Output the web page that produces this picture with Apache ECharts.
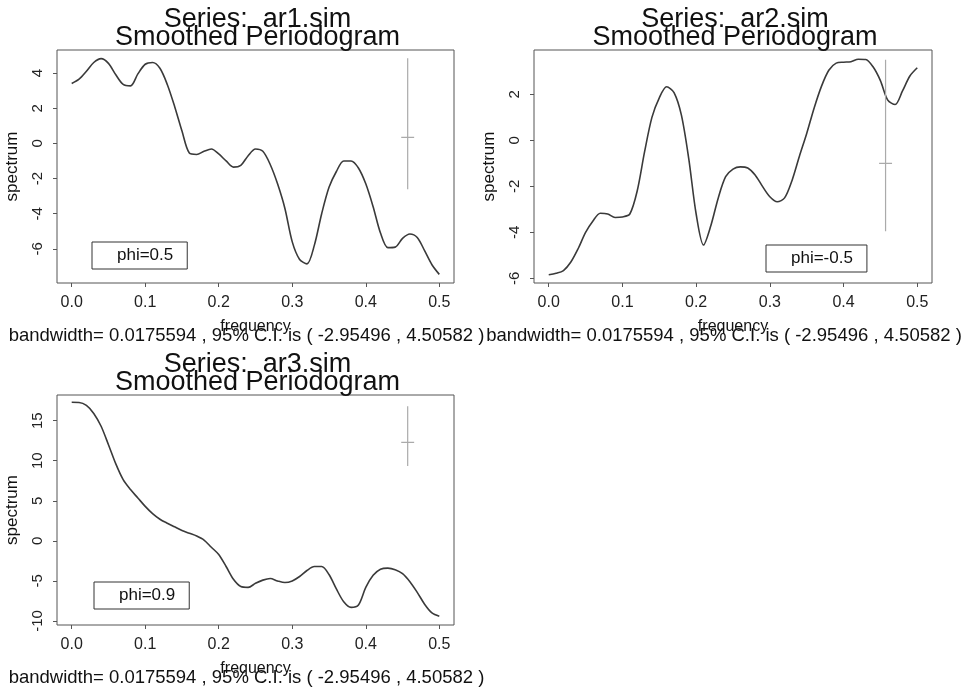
<!DOCTYPE html>
<html lang="en">
  <head>
    <meta charset="utf-8" />
    <title>Smoothed Periodogram</title>
    <script src="https://cdn.jsdelivr.net/npm/echarts@6/dist/echarts.min.js"></script>
    <style>
      html, body { margin: 0; padding: 0; background: #fff; }
      #chart { width: 971px; height: 692px; }
    </style>
  </head>
  <body>
    <div id="chart"></div>
    <script>
      // frequencies of the smoothed periodogram
      var freq = [0.00, 0.01, 0.02, 0.03, 0.04, 0.05, 0.06, 0.07, 0.08, 0.09,
        0.10, 0.11, 0.12, 0.13, 0.14, 0.15, 0.16, 0.17, 0.18, 0.19,
        0.20, 0.21, 0.22, 0.23, 0.24, 0.25, 0.26, 0.27, 0.28, 0.29,
        0.30, 0.31, 0.32, 0.33, 0.34, 0.35, 0.36, 0.37, 0.38, 0.39,
        0.40, 0.41, 0.42, 0.43, 0.44, 0.45, 0.46, 0.47, 0.48, 0.49, 0.50]

      // spectrum (dB) of each simulated series
      var ar1 = [3.41, 3.65, 4.1, 4.6, 4.82, 4.55, 3.9, 3.35, 3.27, 3.95,
        4.5, 4.6, 4.27, 3.35, 2.1, 0.7, -0.55, -0.63, -0.45, -0.32,
        -0.6, -1.0, -1.35, -1.25, -0.7, -0.32, -0.45, -1.2, -2.3, -3.7,
        -5.6, -6.6, -6.85, -5.8, -4.0, -2.5, -1.6, -1.0, -1.0, -1.4,
        -2.3, -3.6, -5.1, -5.93, -5.9, -5.4, -5.15, -5.35, -6.1, -6.9, -7.45]
      var ar2 = [-5.84, -5.78, -5.66, -5.29, -4.7, -4.0, -3.5, -3.17, -3.2, -3.35,
        -3.33, -3.2, -2.2, -0.5, 1.0, 1.85, 2.33, 2.08, 1.1, -0.8,
        -3.2, -4.55, -3.7, -2.5, -1.58, -1.25, -1.15, -1.2, -1.5, -2.0,
        -2.45, -2.67, -2.5, -1.75, -0.7, 0.3, 1.4, 2.35, 3.05, 3.36,
        3.4, 3.42, 3.53, 3.52, 3.2, 2.6, 1.75, 1.56, 2.15, 2.8, 3.16]
      var ar3 = [17.29, 17.27, 16.9, 15.9, 14.3, 12.0, 9.6, 7.64, 6.4, 5.35,
        4.3, 3.4, 2.7, 2.2, 1.75, 1.3, 0.95, 0.6, 0.1, -0.8,
        -1.7, -3.2, -4.8, -5.7, -5.8, -5.3, -4.9, -4.7, -5.0, -5.2,
        -5.0, -4.45, -3.7, -3.2, -3.2, -4.2, -6.0, -7.6, -8.3, -8.0,
        -5.8, -4.3, -3.54, -3.4, -3.6, -4.1, -5.1, -6.43, -7.9, -9.0, -9.42]

      var seriesNames = ['ar1.sim', 'ar2.sim', 'ar3.sim']
      var phiLabels = ['phi=0.5', 'phi=-0.5', 'phi=0.9']

      // confidence interval bar
      var bandwidth = 0.0175594
      var ciLower = -2.95496
      var ciUpper = 4.50582
      var ciFreq = 0.457
      var ciCentre = [0.34, -1.0, 12.3]

      var subText = 'bandwidth= ' + bandwidth + ' , 95% C.I. is ( ' + ciLower + ' , ' + ciUpper + ' )'

      var chart = echarts.init(document.getElementById('chart'), null, { renderer: 'canvas' })

      var font = 'Liberation Sans, Arial, Helvetica, sans-serif'
      var grids = [
        { left: 57, top: 50, width: 397, height: 233 },
        { left: 534, top: 50, width: 398, height: 233 },
        { left: 57, top: 395, width: 397, height: 230 }
      ]
      var yRanges = [[-7.94, 5.31], [-6.2, 3.93], [-10.5, 18.2]]
      var ySplits = [6, 5, 5]
      var legendPos = [[92, 242], [766, 245], [94, 582]]
      var values = [ar1, ar2, ar3]

      var title = []
      var xAxis = []
      var yAxis = []
      var legend = []
      var series = []

      grids.forEach(function (g, i) {
        var cx = g.left + g.width / 2
        title.push({
          text: 'Series:  ' + seriesNames[i] + '\nSmoothed Periodogram',
          left: cx - 3, top: g.top - 44, textAlign: 'center',
          textStyle: { fontFamily: font, fontSize: 27, fontWeight: 'normal', color: '#111', lineHeight: 18 }
        })
        title.push({
          text: subText,
          left: cx - 14, top: g.top + g.height + 38, textAlign: 'center',
          textStyle: { fontFamily: font, fontSize: 18.5, fontWeight: 'normal', color: '#111' }
        })
        xAxis.push({
          type: 'value', gridIndex: i, min: -0.02, max: 0.52,
          name: 'frequency', nameLocation: 'middle', nameGap: 36,
          nameTextStyle: { fontFamily: font, fontSize: 16, color: '#111' },
          axisLine: { show: false, onZero: false },
          axisTick: { show: true, length: 4, lineStyle: { color: '#555' } },
          axisLabel: {
            margin: 12, fontFamily: font, fontSize: 16, color: '#222',
            showMinLabel: false, showMaxLabel: false,
            formatter: function (v) { return v.toFixed(1) }
          },
          splitLine: { show: false }
        })
        yAxis.push({
          type: 'value', gridIndex: i, min: yRanges[i][0], max: yRanges[i][1],
          splitNumber: ySplits[i],
          name: 'spectrum', nameLocation: 'middle', nameGap: 36,
          nameTextStyle: { fontFamily: font, fontSize: 17, color: '#111' },
          axisLine: { show: false, onZero: false },
          axisTick: { show: true, length: 4, lineStyle: { color: '#555' } },
          axisLabel: {
            rotate: 90, margin: 12, fontFamily: font, fontSize: 15, color: '#222',
            showMinLabel: false, showMaxLabel: false
          },
          splitLine: { show: false }
        })
        legend.push({
          data: [phiLabels[i]], left: legendPos[i][0], top: legendPos[i][1],
          icon: 'none', itemWidth: 8, itemHeight: 14, selectedMode: false,
          padding: [5, 14, 5, 12], borderColor: '#333', borderWidth: 1,
          textStyle: { fontFamily: font, fontSize: 17, color: '#111' }
        })
        series.push({
          name: phiLabels[i], type: 'line', xAxisIndex: i, yAxisIndex: i,
          data: freq.map(function (f, k) { return [f, values[i][k]] }),
          showSymbol: false, smooth: 0.3,
          lineStyle: { color: '#3a3a3a', width: 1.6 }
        })
        // vertical and horizontal parts of the C.I. cross
        series.push({
          type: 'line', xAxisIndex: i, yAxisIndex: i, showSymbol: false,
          data: [[ciFreq, ciCentre[i] + ciLower], [ciFreq, ciCentre[i] + ciUpper]],
          lineStyle: { color: '#aaa', width: 1.2 }
        })
        series.push({
          type: 'line', xAxisIndex: i, yAxisIndex: i, showSymbol: false,
          data: [[ciFreq - bandwidth / 2, ciCentre[i]], [ciFreq + bandwidth / 2, ciCentre[i]]],
          lineStyle: { color: '#aaa', width: 1.2 }
        })
      })

      chart.setOption({
        animation: false,
        backgroundColor: '#fff',
        title: title,
        legend: legend,
        grid: grids.map(function (g) {
          return Object.assign({ show: true, borderColor: '#555', borderWidth: 1, backgroundColor: 'transparent' }, g)
        }),
        xAxis: xAxis,
        yAxis: yAxis,
        series: series
      })
    </script>
  </body>
</html>
